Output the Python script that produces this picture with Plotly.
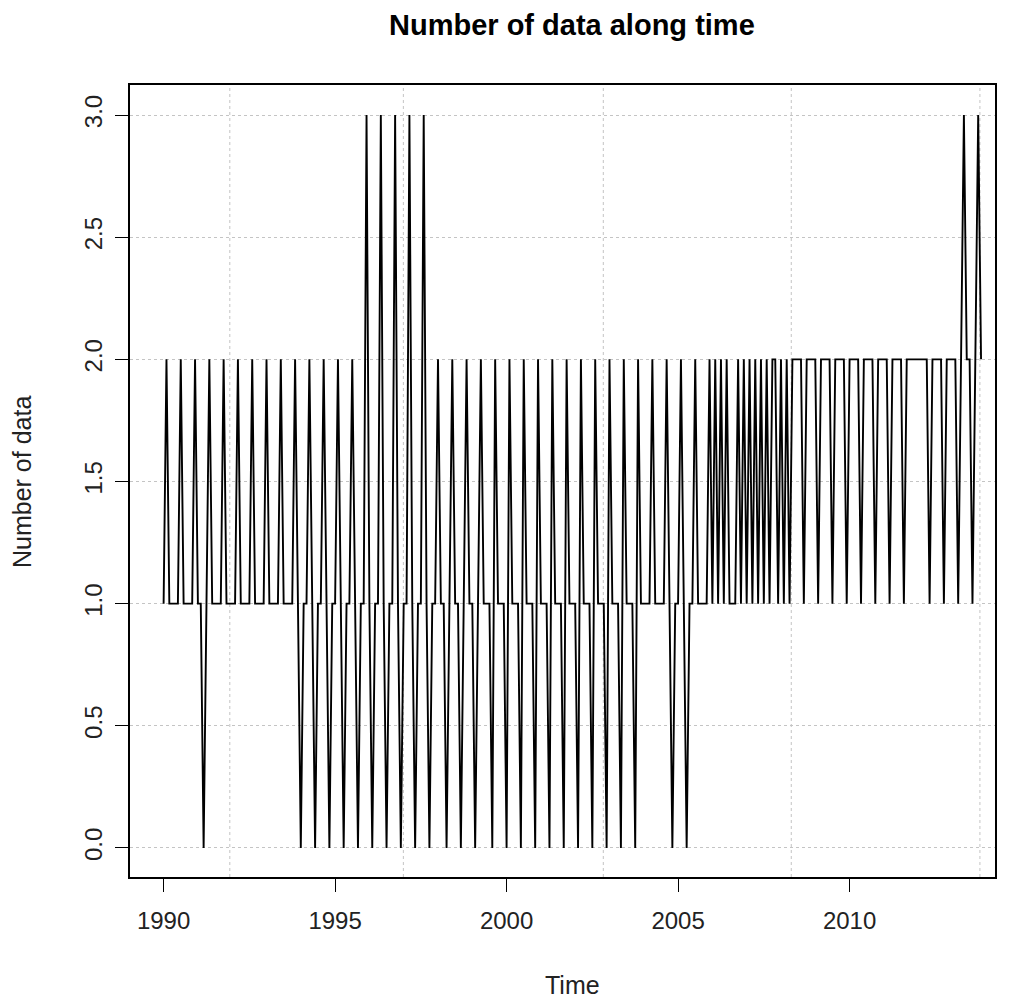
import plotly.graph_objects as go

# ---------------- data (monthly counts, Jan 1990 onward) ----------------
start_year = 1990
counts_1990 = [1, 2, 1, 1, 1, 1, 2, 1, 1, 1, 1, 2]
counts_1991 = [1, 1, 0, 1, 2, 1, 1, 1, 1, 2, 1, 1]
counts_1992 = [1, 1, 2, 1, 1, 1, 1, 2, 1, 1, 1, 1]
counts_1993 = [2, 1, 1, 1, 1, 2, 1, 1, 1, 1, 2, 1]
counts_1994 = [0, 1, 1, 2, 1, 0, 1, 1, 2, 1, 0, 1]
counts_1995 = [1, 2, 1, 0, 1, 1, 2, 1, 0, 1, 1, 3]
counts_1996 = [1, 0, 1, 1, 3, 1, 0, 1, 1, 3, 1, 0]
counts_1997 = [1, 1, 3, 1, 0, 1, 1, 3, 1, 0, 1, 1]
counts_1998 = [2, 1, 1, 0, 1, 2, 1, 1, 0, 1, 2, 1]
counts_1999 = [1, 0, 1, 2, 1, 1, 1, 0, 2, 1, 1, 1]
counts_2000 = [0, 2, 1, 1, 1, 0, 2, 1, 1, 1, 0, 2]
counts_2001 = [1, 1, 1, 0, 2, 1, 1, 1, 0, 2, 1, 1]
counts_2002 = [1, 0, 2, 1, 1, 1, 0, 2, 1, 1, 1, 0]
counts_2003 = [2, 1, 1, 1, 0, 2, 1, 1, 1, 0, 2, 1]
counts_2004 = [1, 1, 1, 2, 1, 1, 1, 1, 2, 1, 0, 1]
counts_2005 = [1, 2, 1, 0, 1, 1, 2, 1, 1, 1, 1, 2]
counts_2006 = [1, 2, 1, 2, 1, 2, 1, 1, 1, 2, 1, 2]
counts_2007 = [1, 2, 1, 2, 1, 2, 1, 2, 1, 2, 2, 1]
counts_2008 = [2, 1, 2, 1, 2, 2, 2, 2, 1, 2, 2, 2]
counts_2009 = [2, 1, 2, 2, 2, 2, 1, 2, 2, 2, 2, 1]
counts_2010 = [2, 2, 2, 2, 1, 2, 2, 2, 2, 1, 2, 2]
counts_2011 = [2, 2, 1, 2, 2, 2, 2, 1, 2, 2, 2, 2]
counts_2012 = [2, 2, 2, 2, 1, 2, 2, 2, 2, 1, 2, 2]
counts_2013 = [2, 2, 1, 2, 3, 2, 2, 1, 2, 3, 2]

counts = (counts_1990 + counts_1991 + counts_1992 + counts_1993 + counts_1994 +
          counts_1995 + counts_1996 + counts_1997 + counts_1998 + counts_1999 +
          counts_2000 + counts_2001 + counts_2002 + counts_2003 + counts_2004 +
          counts_2005 + counts_2006 + counts_2007 + counts_2008 + counts_2009 +
          counts_2010 + counts_2011 + counts_2012 + counts_2013)
months_per_year = 12
time = [start_year + i / months_per_year for i in range(len(counts))]

x_tick_vals = [1990, 1995, 2000, 2005, 2010]
x_tick_text = ["1990", "1995", "2000", "2005", "2010"]
y_tick_vals = [0.0, 0.5, 1.0, 1.5, 2.0, 2.5, 3.0]
y_tick_text = ["0.0", "0.5", "1.0", "1.5", "2.0", "2.5", "3.0"]
v_grid_years = [1991.93, 1996.99, 2002.82, 2008.3, 2013.8]

title_text = "Number of data along time"
x_title = "Time"
y_title = "Number of data"

# ---------------- figure ----------------
FONT = "Liberation Sans, Arial, Helvetica, sans-serif"
PLOT_W, PLOT_H = 865, 792
fig = go.Figure()
fig.add_trace(go.Scatter(x=time, y=counts, mode="lines",
                         line=dict(color="black", width=1.9),
                         showlegend=False, hoverinfo="skip"))

for gx in v_grid_years:
    fig.add_shape(type="line", xref="x", yref="paper", x0=gx, x1=gx, y0=0, y1=1,
                  line=dict(color="#c4c4c4", width=1, dash="dot"), layer="below")

fig.update_layout(
    width=1010, height=1004,
    margin=dict(l=122, r=23, t=77, b=135),
    paper_bgcolor="white", plot_bgcolor="white",
    font=dict(family=FONT, size=24, color="black"),
    showlegend=False,
)
fig.update_xaxes(range=[1989.02, 2014.24], tickvals=x_tick_vals, ticktext=x_tick_text,
                 ticks="outside", ticklen=13, tickwidth=1.3, tickcolor="black",
                 showline=True, linecolor="black", linewidth=1.5, mirror=True,
                 showgrid=False, zeroline=False, ticklabelstandoff=8,
                 tickfont=dict(size=24, family=FONT, color="#222"))
fig.update_yaxes(range=[-0.119, 3.123], tickvals=y_tick_vals, ticktext=y_tick_text,
                 ticks="outside", ticklen=13, tickwidth=1.3, tickcolor="black",
                 showline=True, linecolor="black", linewidth=1.5, mirror=True,
                 showgrid=True, gridcolor="#c4c4c4", griddash="dot", gridwidth=1,
                 zeroline=False, tickangle=-90, ticklabelstandoff=4,
                 tickfont=dict(size=24, family=FONT, color="#222"))

fig.add_annotation(text="<b>" + title_text + "</b>", xref="paper", yref="paper",
                   x=0.511, y=1 + 60.5 / PLOT_H, xanchor="center", yanchor="middle",
                   showarrow=False, font=dict(size=29, family=FONT, color="black"))
fig.add_annotation(text=x_title, xref="paper", yref="paper",
                   x=0.511, y=-108 / PLOT_H, xanchor="center", yanchor="middle",
                   showarrow=False, font=dict(size=25, family=FONT, color="#222"))
fig.add_annotation(text=y_title, xref="paper", yref="paper",
                   x=-108 / PLOT_W, y=395 / PLOT_H, xanchor="center", yanchor="middle",
                   textangle=-90, showarrow=False,
                   font=dict(size=25, family=FONT, color="#222"))

fig.write_html("out.html")
